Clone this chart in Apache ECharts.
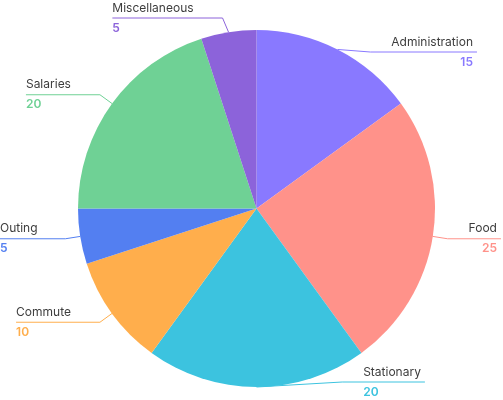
<!DOCTYPE html>
<html>
<head>
<meta charset="utf-8">
<script src="https://cdn.jsdelivr.net/npm/echarts@6/dist/echarts.min.js"></script>
<style>html,body{margin:0;padding:0;background:#fff}#c{width:503px;height:400px}</style>
</head>
<body>
<div id="c"></div>
<script>
const categories = ['Administration', 'Food', 'Stationary', 'Commute', 'Outing', 'Salaries', 'Miscellaneous'];
const values = [15, 25, 20, 10, 5, 20, 5];
const colors = ['#8979FF', '#FF928A', '#3CC3DF', '#FFAE4C', '#537FF1', '#6FD195', '#8C63DA'];

const CX = 256.5, CY = 208.5, R = 178.5, L1 = 15;
const NAME_FONT = '12px Inter', VALUE_FONT = '600 12px Inter';
const ctx = document.createElement('canvas').getContext('2d');
function tw(t, f) { ctx.font = f; return ctx.measureText(String(t)).width; }

const total = values.reduce((a, b) => a + b, 0);
let cum = 0;
const mids = values.map(v => { const m = (cum + v / 2) / total * 2 * Math.PI; cum += v; return m; });

const chart = echarts.init(document.getElementById('c'), null, {renderer: 'canvas'});
const data = categories.map((n, i) => {
  const al = Math.sin(mids[i]) > 1e-9 ? 'right' : 'left';
  return {
    name: n, value: values[i],
    itemStyle: {color: colors[i]},
    label: {rich: {
      name: {fontFamily: 'Inter', fontSize: 12, color: '#3d3d3d', lineHeight: 20, align: al},
      value: {fontFamily: 'Inter', fontSize: 12, fontWeight: 600, lineHeight: 20, color: colors[i], align: al}
    }},
    labelLine: {lineStyle: {color: colors[i]}}
  };
});
chart.setOption({
  animation: false,
  series: [{
    type: 'pie',
    center: [CX, CY],
    radius: [0, R],
    startAngle: 90,
    clockwise: true,
    avoidLabelOverlap: false,
    data: data,
    label: {
      formatter: '{name|{b}}\n{value|{c}}',
      fontFamily: 'Inter',
      overflow: 'none'
    },
    labelLine: {length: L1, length2: 15, lineStyle: {width: 1}},
    labelLayout: function (params) {
      const i = params.dataIndex;
      const pts = params.labelLinePoints;
      if (!pts) return {};
      const p0 = pts[0];
      const ux = (p0[0] - CX) / R, uy = (p0[1] - CY) / R;
      const right = ux > -1e-9;
      let x1 = CX + (R + L1) * ux, y1 = CY + (R + L1) * uy;
      const yMin = right ? 52 : 18, yMax = 382;
      if (y1 < yMin || y1 > yMax) {
        y1 = Math.min(Math.max(y1, yMin), yMax);
        const dx = Math.sqrt(Math.max((R + L1) * (R + L1) - (y1 - CY) * (y1 - CY), 0));
        x1 = CX + (right ? dx : -dx);
      }
      const w = Math.max(tw(categories[i], NAME_FONT), tw(values[i], VALUE_FONT));
      let lx, x2, align;
      if (right) { lx = x1 + 21; x2 = lx + w + 4; align = 'left'; }
      else { lx = Math.max(x1 - 29, w); x2 = lx - w; align = 'right'; }
      return {
        x: lx, y: y1, align: align, verticalAlign: 'middle',
        labelLinePoints: [[p0[0], p0[1]], [x1, y1], [x2, y1]]
      };
    }
  }]
});
</script>
</body>
</html>
